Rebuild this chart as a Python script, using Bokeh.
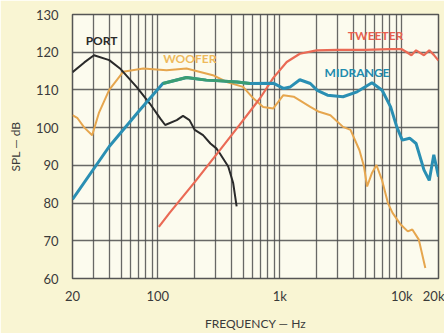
from bokeh.plotting import figure
from bokeh.models import FixedTicker, Label
from bokeh.embed import file_html
from bokeh.resources import INLINE

# ---- data (frequency in Hz, SPL in dB) ----
port_f = [20, 25, 30, 40, 49, 67, 86, 105, 115, 143, 161, 182, 201, 235, 270, 302, 322, 378, 415, 443]
port_db = [114.7, 117.3, 119.2, 117.9, 115.7, 110.8, 106.4, 102.4, 100.7, 102.0, 103.1, 102.0, 99.4, 98.0, 95.8, 94.5, 93.2, 89.7, 85.3, 79.1]

woofer_f = [20, 22, 25, 29, 33, 40, 52, 76, 118, 172, 283, 368, 500, 610, 730, 885, 1070, 1300, 1780, 2100,
            2600, 3300, 3800, 4500, 4900, 5200, 5700, 6200, 6900, 7700, 8400, 9800, 11200, 12200, 13800, 15600]
woofer_db = [103.3, 102.5, 100.0, 98.0, 104.0, 110.0, 114.8, 115.7, 115.2, 115.7, 113.9, 112.1, 110.8, 107.7, 105.5, 105.1, 108.6, 108.2, 105.5, 104.2,
             103.3, 100.2, 99.4, 94.0, 89.7, 84.4, 88.0, 90.1, 86.0, 80.0, 77.4, 74.3, 72.5, 73.0, 70.3, 62.8]

mid_f = [20, 40, 71, 110, 172, 250, 324, 446, 570, 885, 1070, 1220, 1460, 1780, 2030, 2460, 3300, 4300, 5700,
         6900, 8100, 9100, 10100, 11600, 13100, 15200, 16800, 18300, 20000]
mid_db = [81.0, 95.0, 104.6, 111.7, 113.3, 112.6, 112.4, 112.1, 111.7, 111.8, 110.4, 110.8, 112.7, 111.7, 109.9, 108.6, 108.2, 109.5, 111.9,
          109.9, 105.5, 100.2, 96.7, 97.2, 95.8, 88.8, 86.0, 92.8, 87.0]

tw_f = [102, 125, 200, 324, 470, 689, 885, 1140, 1460, 2000, 3000, 5000, 8000, 10000, 11000, 12000, 13100, 15200, 16800, 18300, 20000]
tw_db = [73.7, 77.4, 85.5, 94.1, 100.8, 107.8, 113.2, 117.4, 119.6, 120.5, 120.6, 120.6, 120.8, 120.8, 120.0, 119.2, 120.5, 119.2, 120.5, 119.3, 117.8]

y_ticks = [60, 70, 80, 90, 100, 110, 120, 130]
x_ticks = [20, 100, 1000, 10000, 20000]
x_tick_labels = ["20", "100", "1k", "10k", "20k"]
x_grid = [20, 30, 40, 50, 60, 70, 80, 90, 100, 200, 300, 400, 500, 600, 700, 800, 900,
          1000, 2000, 3000, 4000, 5000, 6000, 7000, 8000, 9000, 10000, 20000]

labels = ["PORT", "WOOFER", "MIDRANGE", "TWEETER"]

FONT = "Lato"

p = figure(width=444, height=333, x_axis_type="log", x_range=(20, 20000), y_range=(60, 130),
           output_backend="svg", toolbar_location=None,
           min_border_left=72, min_border_right=6, min_border_top=14, min_border_bottom=54)
p.border_fill_color = "#f9f5d3"
p.background_fill_color = "#fcfbee"
p.outline_line_color = "#555555"
p.outline_line_width = 1.5

p.xaxis.ticker = FixedTicker(ticks=x_ticks)
p.xaxis.major_label_overrides = {t: l for t, l in zip(x_ticks, x_tick_labels)}
p.yaxis.ticker = FixedTicker(ticks=y_ticks)
for ax in (p.xaxis, p.yaxis):
    ax.axis_line_color = None
    ax.major_tick_line_color = None
    ax.minor_tick_line_color = None
    ax.major_tick_out = 0
    ax.major_tick_in = 0
    ax.minor_tick_out = 0
    ax.major_label_text_font = FONT
    ax.major_label_text_font_size = "13px"
    ax.major_label_text_color = "#3a3a3a"
    ax.axis_label_text_font = FONT
    ax.axis_label_text_font_size = "12px"
    ax.axis_label_text_font_style = "normal"
    ax.axis_label_text_color = "#3a3a3a"
p.yaxis.major_label_standoff = 14
p.xaxis.major_label_standoff = 9
p.xaxis.axis_label = "FREQUENCY — Hz"
p.yaxis.axis_label = "SPL — dB"
p.xaxis.axis_label_standoff = 9
p.yaxis.axis_label_standoff = 10

p.xgrid.ticker = FixedTicker(ticks=x_grid)
p.ygrid.ticker = FixedTicker(ticks=y_ticks)
for g in (p.xgrid, p.ygrid):
    g.grid_line_color = "#4d4d4d"
    g.grid_line_width = 1.3
    g.grid_line_alpha = 0.85

p.line(woofer_f, woofer_db, line_color="#e6a64e", line_width=2)
p.line(port_f, port_db, line_color="#2a2a2a", line_width=2)
p.line(tw_f, tw_db, line_color="#ea6a55", line_width=2.2)
p.line(mid_f, mid_db, line_color="#2a8fb3", line_width=3)
green_f = [f for f in mid_f if 100 <= f <= 600]
green_db = [d for f, d in zip(mid_f, mid_db) if 100 <= f <= 600]
p.line(green_f, green_db, line_color="#3b9d72", line_width=3)

lab_pos = [(34.6, 123.1), (183, 118.4), (4300, 114.6), (6100, 124.5)]
lab_col = ["#2a2a2a", "#eeba5c", "#1f8cae", "#e8604f"]
for t, (x, y), c in zip(labels, lab_pos, lab_col):
    p.add_layout(Label(x=x, y=y, text=t, text_color=c, text_font=FONT, text_font_size="12px",
                       text_font_style="bold", text_align="center", text_baseline="middle"))

open("out.html", "w").write(file_html(p, INLINE))
